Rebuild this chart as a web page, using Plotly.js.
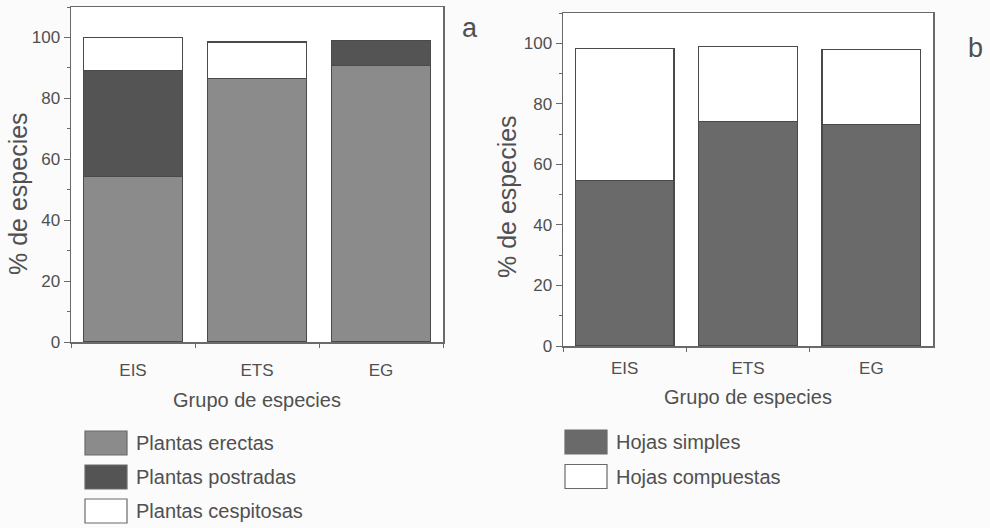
<!DOCTYPE html>
<html>
<head>
<meta charset="utf-8">
<script src="https://cdn.plot.ly/plotly-3.0.1.min.js"></script>
<style>
  html, body { margin: 0; padding: 0; background: #fbfbfb; }
  #chart { width: 990px; height: 528px; }
</style>
</head>
<body>
<div id="chart"></div>
<script>
// ---- data ----
const categories = ['EIS', 'ETS', 'EG'];
// panel a
const plantasErectas = [54.3, 86.6, 90.8];
const plantasPostradas = [34.8, 0, 8.2];
const plantasCespitosas = [11.0, 11.9, 0];
// panel b
const hojasSimples = [54.6, 74.2, 73.3];
const hojasCompuestas = [43.8, 24.8, 24.7];
const legendA = ['Plantas erectas', 'Plantas postradas', 'Plantas cespitosas'];
const legendB = ['Hojas simples', 'Hojas compuestas'];
const yTickVals = [0, 20, 40, 60, 80, 100];
const yTitle = '% de especies';
const xTitle = 'Grupo de especies';
const panelLetters = ['a', 'b'];

// ---- styles ----
const W = 990, H = 528;
const FONT = '"Liberation Sans", Arial, sans-serif';
const TXT = '#505050';
const colErectas = '#8b8b8b';
const colPostradas = '#545454';
const colCesp = '#ffffff';
const colSimples = '#6a6a6a';
const outline = { color: '#4a4a4a', width: 1.2 };
const px = v => v / W;
const py = v => 1 - v / H;

function bar(y, color, xa, ya, name) {
  return {
    type: 'bar', x: categories, y: y, name: name, width: 0.8,
    marker: { color: color, line: outline },
    xaxis: xa, yaxis: ya, showlegend: false, hoverinfo: 'skip'
  };
}

const traces = [
  bar(plantasErectas, colErectas, 'x', 'y', legendA[0]),
  bar(plantasPostradas, colPostradas, 'x', 'y', legendA[1]),
  bar(plantasCespitosas, colCesp, 'x', 'y', legendA[2]),
  bar(hojasSimples, colSimples, 'x2', 'y2', legendB[0]),
  bar(hojasCompuestas, colCesp, 'x2', 'y2', legendB[1])
];

function xAxis(domain, anchor, labelOff, titleOff) {
  return {
    domain: domain, anchor: anchor, type: 'category',
    range: [-0.5, 2.5],
    showline: true, mirror: true, linecolor: '#6a6a6a', linewidth: 1.5,
    ticks: 'outside', ticklen: 4, tickcolor: '#6a6a6a', tickson: 'boundaries',
    ticklabelstandoff: labelOff,
    showgrid: false, zeroline: false,
    tickfont: { family: FONT, size: 17, color: TXT },
    title: { text: xTitle, font: { family: FONT, size: 20, color: TXT }, standoff: titleOff }
  };
}
function yAxis(domain, anchor) {
  return {
    domain: domain, anchor: anchor, range: [0, 110],
    showline: true, mirror: true, linecolor: '#6a6a6a', linewidth: 1.5,
    ticks: 'outside', ticklen: 6, tickcolor: '#6a6a6a',
    tickvals: yTickVals,
    minor: { ticks: 'outside', ticklen: 3, dtick: 10, tick0: 0, tickcolor: '#6a6a6a', showgrid: false },
    showgrid: false, zeroline: false,
    tickfont: { family: FONT, size: 17, color: TXT }
  };
}

const shapes = [];
const annotations = [];
function legendRows(labels, colors, x0, yc, dy) {
  labels.forEach((lab, i) => {
    const c = yc + i * dy;
    shapes.push({
      type: 'rect', xref: 'paper', yref: 'paper',
      x0: px(x0), x1: px(x0 + 42), y0: py(c + 12), y1: py(c - 12),
      fillcolor: colors[i], line: { color: '#6a6a6a', width: 1.2 }
    });
    annotations.push({
      xref: 'paper', yref: 'paper', x: px(x0 + 49), y: py(c),
      xanchor: 'left', yanchor: 'middle', showarrow: false, text: lab,
      font: { family: FONT, size: 20, color: TXT }
    });
  });
}
legendRows(legendA, [colErectas, colPostradas, colCesp], 85, 443, 34);
legendRows(legendB, [colSimples, colCesp], 565, 442, 34.5);

// y-axis titles
[[18, 194], [507, 196]].forEach(p => {
  annotations.push({
    xref: 'paper', yref: 'paper', x: px(p[0]), y: py(p[1]),
    xanchor: 'center', yanchor: 'middle', textangle: -90, showarrow: false,
    text: yTitle, font: { family: FONT, size: 25, color: TXT }
  });
});

annotations.push({
  xref: 'paper', yref: 'paper', x: px(470), y: py(28), xanchor: 'center', yanchor: 'middle',
  showarrow: false, text: panelLetters[0], font: { family: FONT, size: 27, color: TXT }
});
annotations.push({
  xref: 'paper', yref: 'paper', x: px(975), y: py(48), xanchor: 'center', yanchor: 'middle',
  showarrow: false, text: panelLetters[1], font: { family: FONT, size: 27, color: TXT }
});

const layout = {
  width: W, height: H,
  margin: { l: 0, r: 0, t: 0, b: 0 },
  paper_bgcolor: '#fbfbfb', plot_bgcolor: '#ffffff',
  barmode: 'stack', bargap: 0.2,
  showlegend: false,
  xaxis: xAxis([px(71), px(443)], 'y', 12, 14),
  yaxis: yAxis([py(342), py(7)], 'x'),
  xaxis2: xAxis([px(563), px(933)], 'y2', 6, 13),
  yaxis2: yAxis([py(346), py(13)], 'x2'),
  shapes: shapes,
  annotations: annotations
};

Plotly.newPlot('chart', traces, layout, { displayModeBar: false, staticPlot: true });
</script>
</body>
</html>
